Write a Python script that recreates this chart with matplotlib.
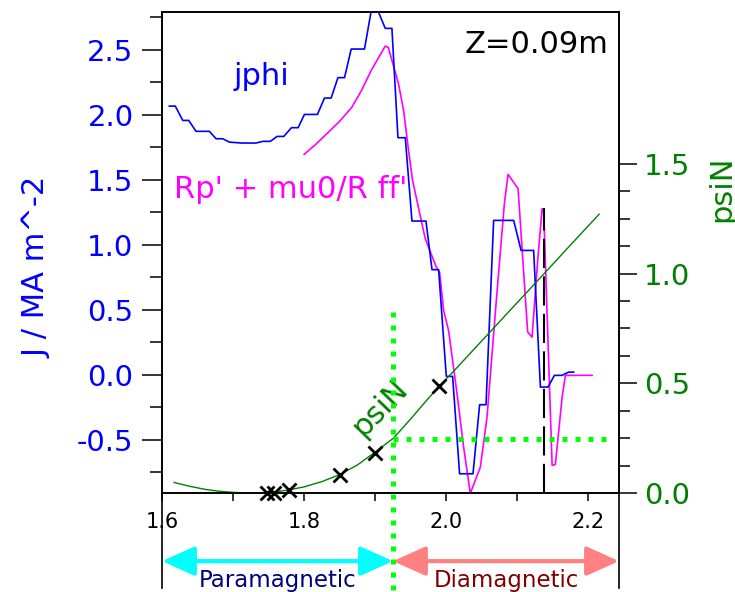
import numpy as np
import matplotlib
matplotlib.use("Agg")
import matplotlib.pyplot as plt
from matplotlib.ticker import FixedLocator

# jphi profile (MA m^-2) vs major radius R (m)
jphi_R = [1.6103, 1.6187, 1.6292, 1.6376, 1.6479, 1.6666, 1.6761, 1.6855, 1.6948,
          1.7127, 1.7324, 1.7418, 1.7525, 1.7620, 1.7714, 1.7821, 1.7915, 1.8004,
          1.8187, 1.8286, 1.8380, 1.8475, 1.8568, 1.8662, 1.8849, 1.8944, 1.9038,
          1.9141, 1.9235, 1.9320, 1.9423, 1.9517, 1.9714, 1.9799, 1.9892, 2.0000,
          2.0089, 2.0187, 2.0376, 2.0469, 2.0559, 2.0666, 2.0948, 2.1052, 2.1229,
          2.1324, 2.1432, 2.1521, 2.1629, 2.1722, 2.1792]
jphi = [2.066, 2.066, 1.956, 1.956, 1.872, 1.872, 1.815, 1.815, 1.789,
        1.782, 1.782, 1.795, 1.795, 1.833, 1.833, 1.900, 1.900, 2.002,
        2.002, 2.128, 2.128, 2.285, 2.285, 2.505, 2.505, 2.80, 2.80,
        2.664, 2.664, 1.823, 1.823, 1.182, 1.182, 0.808, 0.808, -0.013,
        -0.013, -0.762, -0.762, -0.231, -0.231, 1.187, 1.187, 0.956, 0.956,
        -0.095, -0.095, -0.005, -0.005, 0.020, 0.020]

# Rp' + mu0/R ff'
gs_R = [1.8000, 1.8160, 1.8320, 1.8500, 1.8672, 1.8810, 1.8944, 1.9141, 1.9183,
        1.9328, 1.9399, 1.9469, 1.9525, 1.9704, 1.9859, 1.9906, 1.9962, 2.0032,
        2.0151, 2.0244, 2.0338, 2.0479, 2.0573, 2.0704, 2.0817, 2.0869, 2.1010,
        2.1145, 2.1207, 2.1286, 2.1348, 2.1370, 2.1489, 2.1535, 2.1630, 2.1676,
        2.2052]
gs_j = [1.695, 1.770, 1.854, 1.950, 2.058, 2.190, 2.341, 2.528, 2.518,
        2.238, 2.033, 1.726, 1.495, 1.046, 0.828, 0.787, 0.495, 0.341,
        -0.146, -0.557, -0.913, -0.711, -0.326, 0.572, 1.315, 1.541, 1.431,
        0.328, 0.289, 0.879, 1.277, 1.264, -0.698, -0.690, -0.172, -0.005,
        -0.005]

# normalised flux along Z=0.09m
psi_R = [1.617, 1.640, 1.660, 1.680, 1.700, 1.720, 1.740, 1.760, 1.778, 1.800,
         1.825, 1.851, 1.875, 1.898, 1.926, 1.950, 1.973, 1.989, 2.010, 2.040,
         2.067, 2.090, 2.109, 2.137, 2.170, 2.215]
psiN = [0.048, 0.030, 0.017, 0.008, 0.003, 0.000, 0.001, 0.005, 0.014, 0.028,
        0.052, 0.085, 0.128, 0.182, 0.251, 0.338, 0.425, 0.483, 0.554, 0.659,
        0.753, 0.834, 0.900, 0.998, 1.114, 1.271]

# grid points marked with crosses
cross_R = [1.748, 1.758, 1.778, 1.8507, 1.8990, 1.9892]
cross_psi = [0.0, 0.0, 0.012, 0.083, 0.182, 0.489]

R_sep = 2.138      # dashed line
R_para = 1.925     # para/dia boundary
psi_para = 0.247
xmin, xmax = 1.6, 2.243

plt.rcParams['font.family'] = ['DejaVu Sans']
fig = plt.figure(figsize=(7.35, 5.92), dpi=100)
ax = fig.add_axes([162/735, 99/592, 457/735, 481/592])
ax2 = ax.twinx()

ax.plot(gs_R, gs_j, color='#ff00ff', lw=1.2)
ax.plot(jphi_R, jphi, color='#0000ff', lw=1.2)
ax.plot([R_sep, R_sep], [-0.91, 1.28], color='black', lw=1.5, dashes=(14, 4))
ax.set_xlim(xmin, xmax)
ax.set_ylim(-0.91, 2.79)

ax2.plot(psi_R, psiN, color='#008000', lw=1.0)
ax2.plot(cross_R, cross_psi, 'x', color='black', ms=10, mew=2, clip_on=False)
ax2.plot([R_para, 2.228], [psi_para, psi_para], color='#00ff00', lw=3.6,
         dashes=(1, 1.6))
ax2.set_ylim(0, 2.193)

# vertical boundary, running below the axes
ax.plot([R_para, R_para], [0.48, -1.68], color='#00ff00', lw=3.6,
        dashes=(1, 1.6), clip_on=False, zorder=10)
for xv in (xmin, xmax):
    ax.plot([xv, xv], [-0.91, -1.64], color='black', lw=1.2, clip_on=False)

# spines and ticks
for a in (ax, ax2):
    for s in a.spines.values():
        s.set_linewidth(1.2)
ax.set_yticks([-0.5, 0.0, 0.5, 1.0, 1.5, 2.0, 2.5])
ax.yaxis.set_minor_locator(FixedLocator([-0.75, -0.25, 0.25, 0.75, 1.25, 1.75, 2.25, 2.75]))
ax.set_xticks([1.6, 1.8, 2.0, 2.2])
ax.xaxis.set_minor_locator(FixedLocator([1.7, 1.9, 2.1]))
ax.set_xticklabels(['1.6', '1.8', '2.0', '2.2'])
ax.tick_params(axis='y', which='major', direction='out', length=14.5, width=1.1,
               labelsize=21, labelcolor='#0000ff', pad=6)
ax.tick_params(axis='y', which='minor', direction='out', length=8.5, width=1.1)
ax.tick_params(axis='x', which='both', direction='out', length=5.5, width=1.1,
               labelsize=15, pad=8)
ax.set_yticklabels(['-0.5', '0.0', '0.5', '1.0', '1.5', '2.0', '2.5'])

ax2.set_yticks([0.0, 0.5, 1.0, 1.5])
ax2.set_yticklabels(['0.0', '0.5', '1.0', '1.5'])
ax2.yaxis.set_minor_locator(FixedLocator([0.125, 0.25, 0.375, 0.625, 0.75, 0.875,
                                          1.125, 1.25, 1.375]))
ax2.tick_params(axis='y', which='major', direction='out', length=13, width=1.1,
                labelsize=21, labelcolor='#008000', pad=5)
ax2.tick_params(axis='y', which='minor', direction='out', length=8, width=1.1)

# labels
fig.text(37/735, 1 - 267/592, 'J / MA m^-2', rotation=90, color='#0000ff',
         fontsize=22, ha='center', va='center')
fig.text(722/735, 1 - 189/592, 'psiN', rotation=90, color='#008000',
         fontsize=22, ha='center', va='center')
ax.text(1.700, 2.225, 'jphi', color='#0000ff', fontsize=22)
ax.text(1.617, 1.356, "Rp' + mu0/R ff'", color='#ff00ff', fontsize=22)
ax.text(0.978, 0.915, 'Z=0.09m', transform=ax.transAxes, ha='right',
        fontsize=22)
ax.text(1.906, -0.26, 'psiN', color='#008000', fontsize=22, rotation=46,
        ha='center', va='center', rotation_mode='anchor')

# para / dia arrows
y_arr = -1.434
for x0, x1, col in ((xmin, R_para, '#00ffff'), (R_para, xmax, '#ff8080')):
    ax.annotate('', xy=(x0, y_arr), xytext=(x1, y_arr), annotation_clip=False,
                arrowprops=dict(arrowstyle='<|-|>,head_length=1.0,head_width=0.45',
                                mutation_scale=20, color=col, lw=3,
                                shrinkA=0, shrinkB=0))
ax.text((xmin + R_para) / 2, -1.636, 'Paramagnetic', color='#000080',
        fontsize=16.5, ha='center', va='baseline', clip_on=False)
ax.text((R_para + xmax) / 2, -1.636, 'Diamagnetic', color='#800000',
        fontsize=16.5, ha='center', va='baseline', clip_on=False)

fig.savefig('out.png', dpi=100)
